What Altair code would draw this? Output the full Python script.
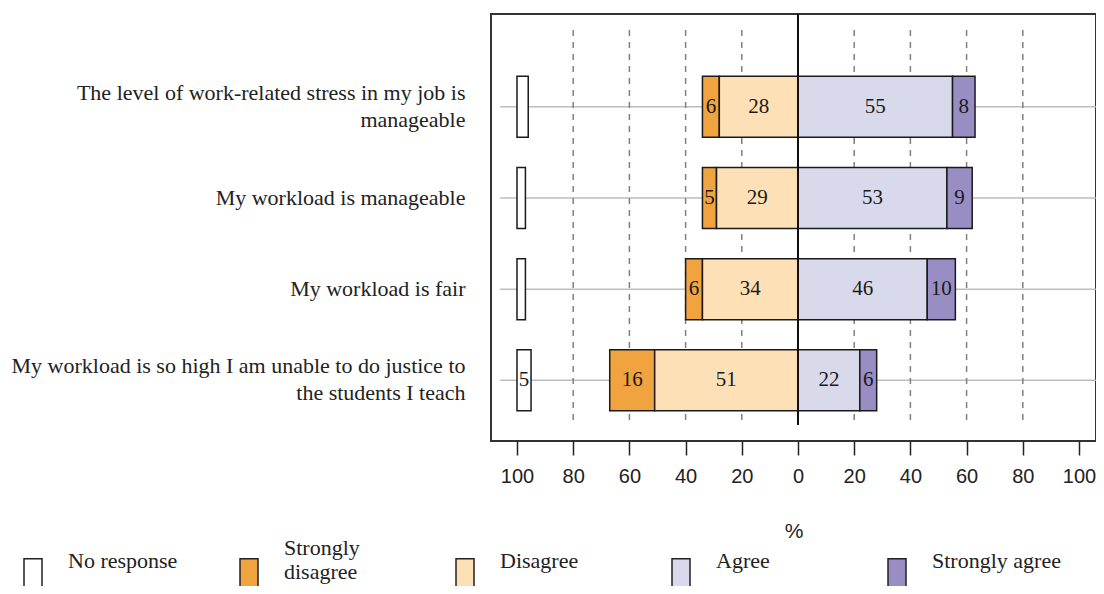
import altair as alt
import pandas as pd

statements = [
    "The level of work-related stress in my job is\nmanageable",
    "My workload is manageable",
    "My workload is fair",
    "My workload is so high I am unable to do justice to\nthe students I teach",
]
no_response = [4, 3, 3, 5]
strongly_disagree = [6, 5, 6, 16]
disagree = [28, 29, 34, 51]
agree = [55, 53, 46, 22]
strongly_agree = [8, 9, 10, 6]

categories = ["No response", "Strongly disagree", "Disagree", "Agree", "Strongly agree"]
colors = ["#ffffff", "#f1a340", "#fee0b6", "#d8daeb", "#998ec3"]

tick_values = [-100, -80, -60, -40, -20, 0, 20, 40, 60, 80, 100]
grid_values = [-80, -60, -40, -20, 20, 40, 60, 80]

rows = []
for i, s in enumerate(statements):
    nr, sd, d, a, sa = no_response[i], strongly_disagree[i], disagree[i], agree[i], strongly_agree[i]
    rows.append(dict(statement=s, category="No response", value=nr, start=-100, end=-100 + nr))
    rows.append(dict(statement=s, category="Strongly disagree", value=sd, start=-(d + sd), end=-d))
    rows.append(dict(statement=s, category="Disagree", value=d, start=-d, end=0))
    rows.append(dict(statement=s, category="Agree", value=a, start=0, end=a))
    rows.append(dict(statement=s, category="Strongly agree", value=sa, start=a, end=a + sa))
df = pd.DataFrame(rows)
df["mid"] = (df["start"] + df["end"]) / 2

stmt_df = pd.DataFrame({"statement": statements})
grid_df = pd.DataFrame({"g": grid_values})

x_scale = alt.Scale(domain=[-109.25, 106.05], nice=False, zero=False)
y_scale = alt.Scale(paddingInner=0.331, paddingOuter=0.507, align=0.674)

x_axis = alt.Axis(
    values=tick_values,
    labelExpr="abs(datum.value)",
    domain=False,
    grid=False,
    tickColor="#222222",
    tickWidth=1.5,
    tickSize=14,
    labelFont="Liberation Sans",
    labelFontSize=20,
    labelColor="#222222",
    labelPadding=11,
    titleFont="Liberation Sans",
    titleFontSize=21,
    titleFontWeight="normal",
    titleColor="#222222",
    titlePadding=34,
)
y_axis = alt.Axis(
    domain=False,
    ticks=False,
    grid=False,
    labelFont="Liberation Serif",
    labelFontSize=22,
    labelColor="#222222",
    labelPadding=26,
    labelLimit=700,
    labelLineHeight=27,
    labelBaseline=alt.condition(
        "indexof(datum.value, '\\n') >= 0", alt.value("line-bottom"), alt.value("middle")
    ),
    labelExpr="split(datum.label, '\\n')",
    title=None,
)

base_y = alt.Y("statement:N", sort=statements, scale=y_scale, axis=y_axis)

ref_lines = alt.Chart(stmt_df).mark_rule(color="#bdbdbd", strokeWidth=1.5).encode(
    y=alt.Y("statement:N", sort=statements, scale=y_scale, axis=y_axis),
    x=alt.datum(-106, scale=x_scale, axis=x_axis, title="%"),
    x2=alt.datum(106),
)

grid = alt.Chart(grid_df).mark_rule(color="#808080", strokeWidth=1.5, strokeDash=[6, 6]).encode(
    x=alt.X("g:Q", scale=x_scale),
    y=alt.value(16),
    y2=alt.value(411),
)

bars = alt.Chart(df).mark_bar(stroke="#1a1a1a", strokeWidth=1.5, opacity=1).encode(
    y=base_y,
    x=alt.X("start:Q", scale=x_scale, axis=x_axis, title="%"),
    x2="end:Q",
    color=alt.Color(
        "category:N",
        scale=alt.Scale(domain=categories, range=colors),
        legend=alt.Legend(
            title=None,
            orient="none",
            legendX=-469,
            legendY=536,
            direction="horizontal",
            columns=5,
            gridAlign="all",
            columnPadding=40,
            symbolType="M-1,-0.3L1,-0.3L1,3.7L-1,3.7Z",
            symbolSize=324,
            symbolStrokeColor="#222222",
            symbolStrokeWidth=1.5,
            symbolOpacity=1,
            labelFont="Liberation Serif",
            labelFontSize=22,
            labelColor="#222222",
            labelOffset=24,
            labelLimit=300,
            labelBaseline={"expr": "datum.label == 'Strongly disagree' ? 'line-bottom' : 'middle'"},
            labelExpr="datum.label == 'Strongly disagree' ? ['Strongly', 'disagree'] : datum.label",
        ),
    ),
)

zero_line = alt.Chart(stmt_df).mark_rule(color="#111111", strokeWidth=2).encode(
    x=alt.datum(0, scale=x_scale),
    y=alt.value(0),
    y2=alt.value(411),
)

labels = alt.Chart(df).transform_filter(alt.datum.value >= 5).mark_text(
    font="Liberation Serif", fontSize=21, color="#1a1a1a"
).encode(
    y=base_y,
    x=alt.X("mid:Q", scale=x_scale),
    text=alt.Text("value:Q"),
)

chart = alt.layer(ref_lines, grid, bars, zero_line, labels).properties(
    width=605,
    height=427,
    background="white",
    autosize=alt.AutoSizeParams(type="none"),
    padding={"left": 483, "top": 6, "right": 0, "bottom": 145},
).configure_view(
    stroke="#333333",
    strokeWidth=2,
)

chart.save("out.html", embed_options={"renderer": "svg", "actions": False})
